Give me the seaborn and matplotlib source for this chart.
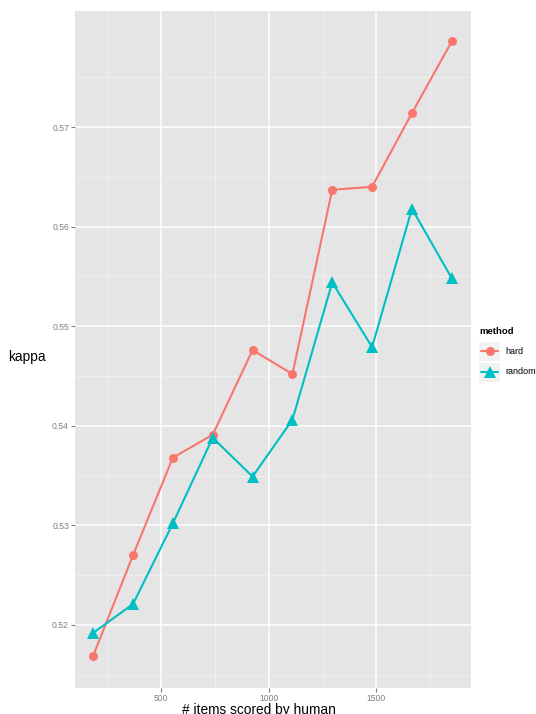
import matplotlib
matplotlib.use("Agg")
import matplotlib.pyplot as plt
import matplotlib.patches as mpatches
import matplotlib.lines as mlines
import numpy as np
import pandas as pd
import seaborn as sns

# Agreement (kappa) as the number of human-scored items grows
items = [185, 370, 555, 740, 925, 1110, 1295, 1480, 1665, 1850]
kappa_hard = [0.5169, 0.5270, 0.5368, 0.5391, 0.5476, 0.5452, 0.5637, 0.5640, 0.5714, 0.5786]
kappa_random = [0.5192, 0.5221, 0.5302, 0.5388, 0.5349, 0.5406, 0.5544, 0.5479, 0.5618, 0.5548]
methods = ["hard", "random"]
x_ticks = [500, 1000, 1500]
y_ticks = [0.52, 0.53, 0.54, 0.55, 0.56, 0.57]

df = pd.DataFrame({
    "items": items * 2,
    "kappa": kappa_hard + kappa_random,
    "method": ["hard"] * len(items) + ["random"] * len(items),
})

palette = {"hard": "#F8766D", "random": "#00BFC4"}
marker_map = {"hard": "o", "random": "^"}

sns.set_theme(style="white")
plt.rcParams["font.family"] = ["Liberation Sans", "DejaVu Sans"]

W, H = 536, 714
fig = plt.figure(figsize=(W / 100, H / 100), dpi=100)
left, right, top, bottom = 75, 470.7, 11, 688
ax = fig.add_axes([left / W, 1 - bottom / H, (right - left) / W, (bottom - top) / H])

ax.set_facecolor("#E5E5E5")
for s in ax.spines.values():
    s.set_visible(False)

# grid: minor lines first, then major
ax.set_xlim(100.7, 1937.8)
ax.set_ylim(0.51367, 0.58165)
ax.set_xticks(x_ticks)
ax.set_yticks(y_ticks)
ax.set_xticks([250, 750, 1250, 1750], minor=True)
ax.set_yticks([0.515, 0.525, 0.535, 0.545, 0.555, 0.565, 0.575], minor=True)
ax.grid(which="minor", color="#F2F2F2", linewidth=0.6)
ax.grid(which="major", color="white", linewidth=1.1)
ax.set_axisbelow(True)

sns.lineplot(
    data=df, x="items", y="kappa", hue="method", style="method",
    hue_order=methods, style_order=methods,
    palette=palette, markers=marker_map, dashes=False,
    linewidth=1.5, markersize=7, markeredgewidth=0, legend=False, ax=ax,
)
# triangles a bit bigger than circles
for line in ax.get_lines():
    if line.get_marker() == "^":
        line.set_markersize(8.5)
    elif line.get_marker() == "o":
        line.set_markersize(6.5)

ax.set_yticklabels([f"{v:.2f}" for v in y_ticks])
ax.set_xticklabels([str(v) for v in x_ticks])
ax.tick_params(axis="both", which="major", length=3.2, width=0.8, color="#7F7F7F",
               labelcolor="#7F7F7F", labelsize=6.2, pad=1.2, direction="out")
ax.tick_params(axis="both", which="minor", length=0)
ax.tick_params(axis="x", bottom=True)
ax.tick_params(axis="y", left=True)

ax.set_xlabel("# items scored by human", fontsize=9.9, color="black")
ax.xaxis.set_label_coords((259 - left) / (right - left), -(703 - bottom) / (bottom - top))
ax.xaxis.label.set_va("top")
ax.set_ylabel("kappa", fontsize=9.8, color="black", rotation=0)
ax.yaxis.set_label_coords((8 - left) / (right - left), (bottom - 356.5) / (bottom - top))
ax.yaxis.label.set_ha("left")
ax.yaxis.label.set_va("center")

# legend drawn in figure pixels
def fx(px):
    return px / W

def fy(py):
    return 1 - py / H

fig.text(fx(479), fy(332), "method", fontsize=6.8, fontweight="bold",
         color="black", ha="left", va="center")
key_rows = [(341.7, 360.7), (362.5, 381.5)]
for m, (y0, y1) in zip(methods, key_rows):
    fig.patches.append(mpatches.Rectangle((fx(479), fy(y1)), (500 - 479) / W, (y1 - y0) / H,
                                          transform=fig.transFigure, facecolor="#F2F2F2",
                                          edgecolor="none"))
    yc = (y0 + y1) / 2
    fig.lines.append(mlines.Line2D([fx(481), fx(498)], [fy(yc), fy(yc)],
                                   transform=fig.transFigure, color=palette[m], linewidth=1.5))
    fig.lines.append(mlines.Line2D([fx(489.5)], [fy(yc)], transform=fig.transFigure,
                                   marker=marker_map[m], color=palette[m], markeredgewidth=0,
                                   markersize=8.5 if m == "random" else 6.5, linestyle="none"))
    fig.text(fx(505), fy(yc), m, fontsize=6.5, color="black", ha="left", va="center")

fig.savefig("out.png", dpi=100, facecolor="white")
